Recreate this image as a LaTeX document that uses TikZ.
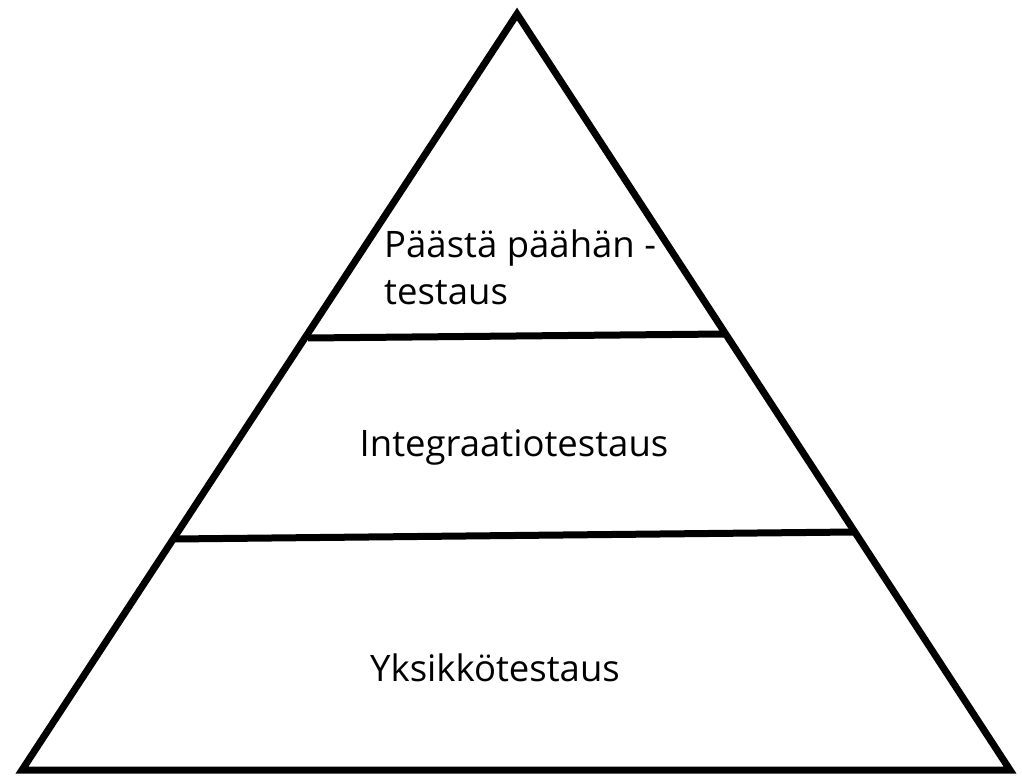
\documentclass[tikz,border=0pt]{standalone}
\usepackage{fontspec}
\setmainfont{Open Sans}
\begin{document}
\begin{tikzpicture}[x=1pt,y=-1pt,
  edge/.style={line width=7pt,line join=miter,miter limit=10},
  lbl/.style={inner sep=0pt,font=\fontsize{36.5}{48}\selectfont}]
\useasboundingbox (0,0) rectangle (1022,778);
\coordinate (apex) at (517,14);
\coordinate (bl) at (22,770);
\coordinate (br) at (1010,770);
\coordinate (u1) at (308,338);
\coordinate (u2) at (724,334);
\coordinate (l1) at (174,539);
\coordinate (l2) at (854,532);
\draw[edge] (apex) -- (br) -- (bl) -- cycle;
\draw[edge] (u1) -- (u2);
\draw[edge] (l1) -- (l2);
\node[lbl,anchor=base west] (t1) at (384,257) {Päästä päähän -};
\node[lbl,anchor=base west] (t1b) at (384,304) {testaus};
\node[lbl,anchor=base] (t2) at (514,456) {Integraatiotestaus};
\node[lbl,anchor=base] (t3) at (495,681) {Yksikkötestaus};
\end{tikzpicture}
\end{document}
